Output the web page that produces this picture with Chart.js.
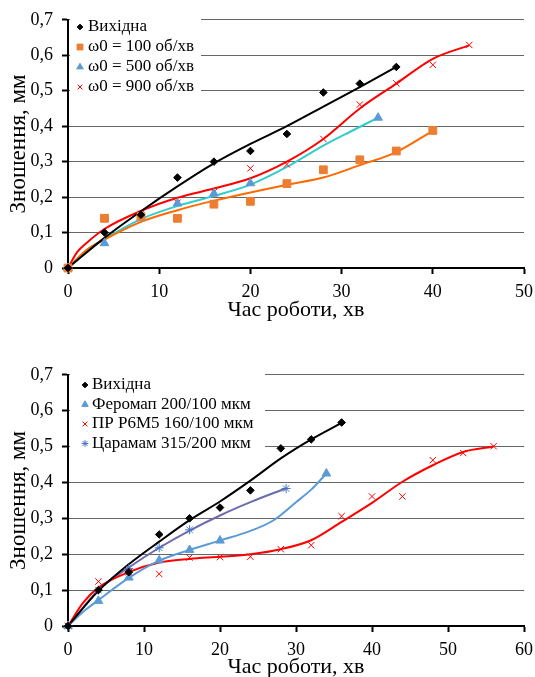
<!DOCTYPE html>
<html>
<head>
<meta charset="utf-8">
<script src="https://cdn.jsdelivr.net/npm/chart.js@4.4.1/dist/chart.umd.min.js"></script>
<style>
body { margin: 0; background: #fff; width: 535px; height: 677px; position: relative; overflow: hidden; }
.box { position: absolute; left: 0; width: 535px; }
#top { top: 0; height: 323px; }
#bottom { top: 355px; height: 325px; }
</style>
</head>
<body>
<div class="box" id="top"><canvas id="chartTop"></canvas></div>
<div class="box" id="bottom"><canvas id="chartBottom"></canvas></div>
<script>
// measured points, both charts (time in min, wear in mm)
const baseT = [0, 4, 8, 12, 16, 20, 24, 28, 32, 36]
const baseW = [0, 0.1, 0.15, 0.255, 0.3, 0.33, 0.378, 0.495, 0.52, 0.567]

const w100T = [0, 4, 8, 12, 16, 20, 24, 28, 32, 36, 40]
const w100W = [0, 0.14, 0.145, 0.14, 0.18, 0.188, 0.238, 0.277, 0.305, 0.33, 0.388]
const w500T = [0, 4, 8, 12, 16, 20, 34]
const w500W = [0, 0.07, 0.14, 0.182, 0.21, 0.239, 0.424]
const w900T = [0, 4, 8, 12, 16, 20, 24, 28, 32, 36, 40, 44]
const w900W = [0, 0.144, 0.153, 0.184, 0.214, 0.281, 0.292, 0.364, 0.461, 0.521, 0.573, 0.629]

const ferT = [0, 4, 8, 12, 16, 20, 34]
const ferW = [0, 0.07, 0.135, 0.183, 0.212, 0.238, 0.425]
const prT = [0, 4, 8, 12, 16, 20, 24, 28, 32, 36, 40, 44, 48, 52, 56]
const prW = [0, 0.124, 0.15, 0.145, 0.191, 0.192, 0.193, 0.214, 0.225, 0.306, 0.361, 0.361, 0.462, 0.482, 0.501]
const carT = [0, 4, 8, 12, 16, 28.7]
const carW = [0, 0.1, 0.16, 0.218, 0.268, 0.383]

// trend lines
const baseTrendT = [0, 4, 8, 12, 16, 20, 24, 28, 32, 36]
const baseTrendTop = [0, 0.085, 0.16, 0.23, 0.295, 0.35, 0.4, 0.455, 0.51, 0.567]
const baseTrendBottom = [0, 0.098, 0.172, 0.235, 0.295, 0.347, 0.405, 0.467, 0.52, 0.566]
const w100TrendT = [0, 2, 4, 8, 12, 16, 20, 24, 28, 32, 36, 40]
const w100TrendW = [0, 0.05, 0.08, 0.13, 0.163, 0.19, 0.213, 0.235, 0.255, 0.29, 0.327, 0.387]
const w500TrendT = [0, 2, 4, 8, 12, 16, 20, 24, 28, 31, 34]
const w500TrendW = [0, 0.05, 0.082, 0.138, 0.175, 0.203, 0.235, 0.285, 0.345, 0.385, 0.424]
const w900TrendT = [0, 1, 2, 4, 8, 12, 16, 20, 24, 28, 32, 36, 40, 44]
const w900TrendW = [0, 0.045, 0.07, 0.11, 0.161, 0.198, 0.224, 0.253, 0.3, 0.364, 0.45, 0.52, 0.59, 0.628]
const ferTrendT = [0, 2, 4, 8, 12, 16, 20, 24, 27, 30, 32, 34]
const ferTrendW = [0, 0.04, 0.072, 0.134, 0.182, 0.212, 0.238, 0.265, 0.294, 0.345, 0.38, 0.425]
const prTrendT = [0, 2, 4, 8, 12, 16, 20, 24, 28, 32, 36, 40, 44, 48, 52, 56]
const prTrendW = [0, 0.065, 0.107, 0.15, 0.177, 0.187, 0.193, 0.2, 0.214, 0.239, 0.29, 0.343, 0.402, 0.448, 0.485, 0.5]
const carTrendT = [0, 4, 8, 12, 16, 20, 24, 28.7]
const carTrendW = [0, 0.1, 0.163, 0.218, 0.266, 0.308, 0.345, 0.384]

const yTicks = ['0', '0,1', '0,2', '0,3', '0,4', '0,5', '0,6', '0,7']
const xTitle = 'Час роботи, хв'
const yTitle = 'Зношення, мм'

const serif = 'Liberation Serif'

function pts(xs, ys) {
    return xs.map((x, i) => ({ x: x, y: ys[i] }))
}

function markers(label, xs, ys, style, color, r) {
    return {
        label: label,
        data: pts(xs, ys),
        showLine: false,
        pointStyle: style,
        pointRadius: r,
        pointBackgroundColor: color,
        pointBorderColor: color,
        pointBorderWidth: 1,
        clip: false
    }
}

function trend(xs, ys, color) {
    return {
        label: '',
        data: pts(xs, ys),
        showLine: true,
        borderColor: color,
        borderWidth: 2,
        pointRadius: 0,
        cubicInterpolationMode: 'monotone',
        clip: false
    }
}

/* legend drawn inside the plot, on a white box */
const boxLegend = {
    id: 'boxLegend',
    beforeDatasetsDraw(chart, args, opts) {
        const ctx = chart.ctx
        ctx.save()
        ctx.fillStyle = '#fff'
        ctx.fillRect(opts.box[0], opts.box[1], opts.box[2], opts.box[3])
        ctx.font = `${opts.size}px "${serif}"`
        ctx.textBaseline = 'middle'
        let row = 0
        chart.data.datasets.forEach(ds => {
            if (!ds.label) return
            const y = opts.y + row * opts.rowH
            ctx.fillStyle = ds.pointBackgroundColor
            ctx.strokeStyle = ds.pointBorderColor
            ctx.lineWidth = 1
            Chart.helpers.drawPoint(ctx, {
                pointStyle: ds.pointStyle,
                radius: ds.pointRadius * 0.75,
                rotation: 0,
                borderWidth: 1
            }, opts.markX, y)
            ctx.fillStyle = '#000'
            ctx.fillText(ds.label, opts.textX, y)
            row++
        })
        ctx.restore()
    }
}

function options(xMax, xHeight, padTop, legendOpts) {
    return {
        responsive: true,
        maintainAspectRatio: false,
        animation: false,
        devicePixelRatio: 1,
        layout: { padding: { top: padTop, right: 11, left: 0, bottom: 0 } },
        plugins: {
            legend: { display: false },
            tooltip: { enabled: false },
            boxLegend: legendOpts
        },
        scales: {
            x: {
                type: 'linear',
                min: 0,
                max: xMax,
                ticks: { stepSize: 10, color: '#000', padding: 7, font: { family: serif, size: 18 } },
                grid: { drawOnChartArea: false, color: '#000', tickLength: 6, tickWidth: 2 },
                border: { color: '#000', width: 2 },
                title: { display: true, text: xTitle, color: '#000', font: { family: serif, size: 22 }, padding: 0 },
                afterFit(s) {
                    s.height = xHeight
                    s.paddingLeft = 0
                    s.paddingRight = 0
                }
            },
            y: {
                min: 0,
                max: 0.7,
                ticks: {
                    stepSize: 0.1,
                    color: '#000',
                    padding: 9,
                    font: { family: serif, size: 18 },
                    callback: (v, i) => yTicks[i]
                },
                grid: { color: '#666', lineWidth: 1, tickColor: '#000', tickLength: 6, tickWidth: 2 },
                border: { color: '#000', width: 2 },
                title: { display: true, text: yTitle, color: '#000', font: { family: serif, size: 23 }, padding: { top: 5, bottom: 0 } },
                afterFit(s) { s.width = 68 }
            }
        }
    }
}

new Chart(document.getElementById('chartTop'), {
    type: 'scatter',
    data: {
        datasets: [
            markers('Вихідна', baseT, baseW, 'rectRot', '#000', 3.8),
            markers('ω0 = 100 об/хв', w100T, w100W, 'rect', '#ED7D31', 5.5),
            markers('ω0 = 500 об/хв', w500T, w500W, 'triangle', '#5B9BD5', 5),
            markers('ω0 = 900 об/хв', w900T, w900W, 'crossRot', '#FF0000', 4.5),
            trend(baseTrendT, baseTrendTop, '#000'),
            trend(w100TrendT, w100TrendW, '#FF6A00'),
            trend(w500TrendT, w500TrendW, '#33CCCC'),
            trend(w900TrendT, w900TrendW, '#FF0000')
        ]
    },
    options: options(50, 55, 15, { box: [70, 13, 131, 84], y: 27, rowH: 20, markX: 80, textX: 88, size: 17 }),
    plugins: [boxLegend]
})

new Chart(document.getElementById('chartBottom'), {
    type: 'scatter',
    data: {
        datasets: [
            markers('Вихідна', baseT, baseW, 'rectRot', '#000', 3.8),
            markers('Феромап 200/100 мкм', ferT, ferW, 'triangle', '#5B9BD5', 5),
            markers('ПР Р6М5 160/100 мкм', prT, prW, 'crossRot', '#FF0000', 4.5),
            markers('Царамам 315/200 мкм', carT, carW, 'star', '#4472C4', 4.5),
            trend(baseTrendT, baseTrendBottom, '#000'),
            trend(ferTrendT, ferTrendW, '#5B9BD5'),
            trend(prTrendT, prTrendW, '#FF0000'),
            trend(carTrendT, carTrendW, '#6C6CAE')
        ]
    },
    options: options(60, 54, 17, { box: [70, 19, 195, 80], y: 30, rowH: 19.5, markX: 85, textX: 92, size: 17 }),
    plugins: [boxLegend]
})
</script>
</body>
</html>
